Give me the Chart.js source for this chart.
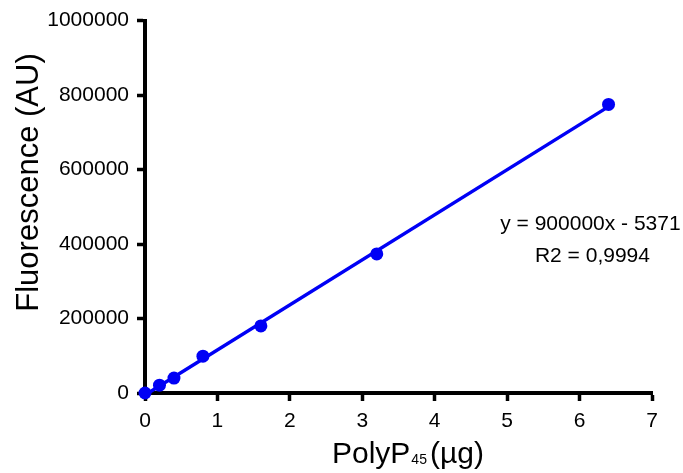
<!DOCTYPE html>
<html>
<head>
<meta charset="utf-8">
<script src="https://cdn.jsdelivr.net/npm/chart.js@4"></script>
<style>
html,body{margin:0;padding:0;background:#fff;}
#wrap{width:683px;height:473px;}
</style>
</head>
<body>
<div id="wrap"><canvas id="c"></canvas></div>
<script>
const polyP = [0, 0.2, 0.4, 0.8, 1.6, 3.2, 6.4];
const fluorescence = [0, 21000, 40000, 99000, 180000, 373500, 775000];
const fitX = [0, 6.4];
const fitY = [-5371, 769000];
const xTicks = [0, 1, 2, 3, 4, 5, 6, 7];
const yTicks = [0, 200000, 400000, 600000, 800000, 1000000];
const equationLines = ['y = 900000x - 5371', 'R2 = 0,9994'];
const yTitle = 'Fluorescence (AU)';
const xTitleParts = ['PolyP', '45', '(µg)'];

const BLUE = 'rgb(0,0,245)';
const FONT = "'Liberation Sans', Arial, sans-serif";

const annotationPlugin = {
  id: 'eq',
  afterDatasetsDraw(chart) {
    const ctx = chart.ctx;
    const xs = chart.scales.x, ys = chart.scales.y;
    ctx.save();
    ctx.fillStyle = '#000';
    ctx.font = '21px ' + FONT;
    ctx.textAlign = 'center';
    ctx.textBaseline = 'middle';
    const cx = xs.getPixelForValue(6.15);
    ctx.fillText(equationLines[0], cx, ys.getPixelForValue(452000));
    ctx.fillText(equationLines[1], cx + 2, ys.getPixelForValue(366000));
    ctx.restore();
  }
};

const titlePlugin = {
  id: 'titles',
  afterDraw(chart) {
    const ctx = chart.ctx;
    ctx.save();
    ctx.fillStyle = '#000';
    // x title with subscript
    ctx.textBaseline = 'alphabetic';
    ctx.textAlign = 'left';
    const big = '30px ' + FONT, small = '14px ' + FONT;
    let x = 332;
    const base = 463;
    ctx.font = big; ctx.fillText(xTitleParts[0], x, base); x += ctx.measureText(xTitleParts[0]).width + 1;
    ctx.font = small; ctx.fillText(xTitleParts[1], x, base + 1); x += ctx.measureText(xTitleParts[1]).width + 3;
    ctx.font = big; ctx.fillText(xTitleParts[2], x, base);
    // y title rotated
    ctx.translate(29, 182.5);
    ctx.rotate(-Math.PI / 2);
    ctx.textAlign = 'center';
    ctx.textBaseline = 'middle';
    ctx.font = '31px ' + FONT;
    ctx.fillText(yTitle, 0, 0);
    ctx.restore();
  }
};

new Chart(document.getElementById('c'), {
  type: 'scatter',
  data: {
    datasets: [
      {
        type: 'line',
        label: 'Fit',
        data: fitX.map((x, i) => ({x: x, y: fitY[i]})),
        borderColor: BLUE,
        borderWidth: 3.5,
        pointRadius: 0,
        fill: false,
        clip: false,
        order: 2
      },
      {
        label: 'PolyP45',
        data: polyP.map((x, i) => ({x: x, y: fluorescence[i]})),
        backgroundColor: BLUE,
        borderColor: BLUE,
        pointRadius: 6.5,
        pointHoverRadius: 6.5,
        borderWidth: 0,
        clip: false,
        order: 1
      }
    ]
  },
  options: {
    responsive: true,
    maintainAspectRatio: false,
    animation: false,
    layout: { padding: { left: 0, right: 31, top: 19, bottom: 0 } },
    plugins: {
      legend: { display: false },
      tooltip: { enabled: false }
    },
    scales: {
      x: {
        type: 'linear',
        min: 0, max: 7,
        afterBuildTicks(scale) { scale.ticks = xTicks.map(v => ({value: v})); },
        afterFit(scale) { scale.height = 80; },
        grid: { display: true, drawOnChartArea: false, drawTicks: true, tickLength: 8, tickWidth: 3.5, tickColor: '#000' },
        border: { display: true, color: '#000', width: 4 },
        ticks: { color: '#000', font: { family: FONT, size: 21 }, padding: 8, maxRotation: 0 },
        title: { display: false }
      },
      y: {
        type: 'linear',
        min: 0, max: 1000000,
        afterBuildTicks(scale) { scale.ticks = yTicks.map(v => ({value: v})); },
        afterFit(scale) { scale.width = 145; },
        grid: { display: true, drawOnChartArea: false, drawTicks: true, tickLength: 8, tickWidth: 3.5, tickColor: '#000' },
        border: { display: true, color: '#000', width: 4 },
        ticks: { color: '#000', font: { family: FONT, size: 21 }, padding: 8, callback: v => String(v) },
        title: { display: false }
      }
    }
  },
  plugins: [annotationPlugin, titlePlugin]
});
</script>
</body>
</html>
